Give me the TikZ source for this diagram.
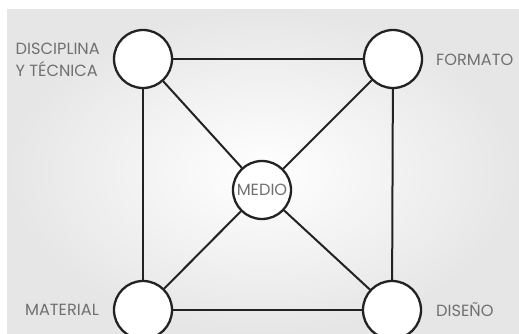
\documentclass[tikz,border=0pt]{standalone}
\usepackage{fontspec}
\setmainfont{Poppins}
\usetikzlibrary{shadings}
\definecolor{labelgray}{HTML}{707070}
\definecolor{edgegray}{HTML}{E6E6E6}
\definecolor{linecol}{HTML}{222222}
\begin{document}
\begin{tikzpicture}[x=1pt,y=-1pt,
  hub/.style={circle,draw=linecol,line width=2.3pt,fill=white,minimum size=58pt,inner sep=0pt},
  lbl/.style={text=labelgray,font=\fontsize{16.2}{22.5}\selectfont,inner sep=0pt},
  link/.style={draw=linecol,line width=2pt}]
\useasboundingbox (0,0) rectangle (519,334);
\shade[inner color=white,outer color=edgegray] (7,10) rectangle (519,334);
\node[hub] (dt) at (143,59) {};
\node[hub] (fo) at (393,59) {};
\node[hub] (ma) at (143,310) {};
\node[hub] (di) at (392,310) {};
\node[hub] (me) at (262,190) {};
\draw[link] (dt) -- (fo);
\draw[link] (dt) -- (ma);
\draw[link] (fo) -- (di);
\draw[link] (ma) -- (di);
\draw[link] (dt) -- (me);
\draw[link] (fo) -- (me);
\draw[link] (ma) -- (me);
\draw[link] (di) -- (me);
\node[lbl,anchor=center] (meT) at (me) {MEDIO};
\node[lbl,anchor=east,align=left] (dtT) at (100,60) {DISCIPLINA\\Y TÉCNICA};
\node[lbl,anchor=west] (foT) at (436,60) {FORMATO};
\node[lbl,anchor=east] (maT) at (99,310) {MATERIAL};
\node[lbl,anchor=west] (diT) at (436,310) {DISEÑO};
\end{tikzpicture}
\end{document}
